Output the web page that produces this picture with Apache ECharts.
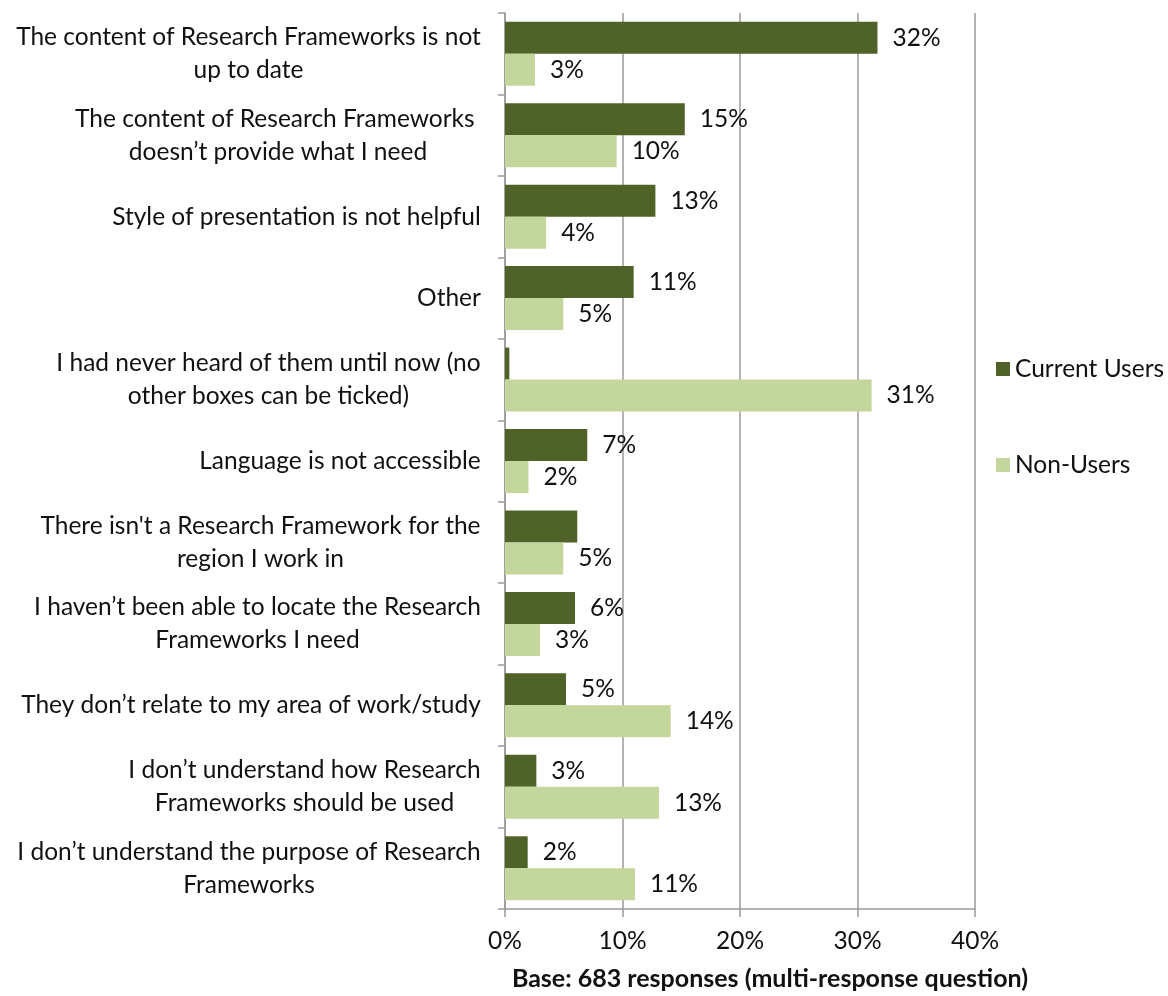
<!DOCTYPE html>
<html>
<head>
<meta charset="utf-8">
<script src="https://cdn.jsdelivr.net/npm/echarts@6/dist/echarts.min.js"></script>
<style>
  html, body { margin: 0; padding: 0; background: #fff; }
  #chart { width: 1168px; height: 996px; }
</style>
</head>
<body>
<div id="chart"></div>
<script>
// 类别（从上到下）
const categories = [
  'The content of Research Frameworks is not\nup to date',
  'The content of Research Frameworks \ndoesn\u2019t provide what I need',
  'Style of presentation is not helpful',
  'Other',
  'I had never heard of them until now (no\nother boxes can be ticked)',
  'Language is not accessible',
  "There isn't a Research Framework for the\nregion I work in",
  'I haven\u2019t been able to locate the Research\nFrameworks I need',
  'They don\u2019t relate to my area of work/study',
  'I don\u2019t understand how Research\nFrameworks should be used',
  'I don\u2019t understand the purpose of Research\nFrameworks'
]
const currentUsers = [31.7, 15.3, 12.8, 10.95, 0.37, 7.0, 6.15, 5.96, 5.19, 2.67, 1.93]
const nonUsers = [2.55, 9.5, 3.5, 4.96, 31.2, 2.0, 4.96, 2.98, 14.1, 13.1, 11.06]
// 哪些柱子显示数值标签
const currentLabelShown = [true, true, true, true, false, true, false, true, true, true, true]
const nonLabelShown = [true, true, true, true, true, true, true, true, true, true, true]
const seriesNames = ['Current Users', 'Non-Users']
const axisTitle = 'Base: 683 responses (multi-response question)'

const FONT = 'Lato'
const FS = 24.5
const colors = ['#4f6228', '#c3d69b']

// 多行标签居中：按最长一行的宽度做 rich 块
const ctx = document.createElement('canvas').getContext('2d')
ctx.font = FS + 'px ' + FONT
const rich = {}
categories.forEach((c, i) => {
  let w = 0
  c.split('\n').forEach(l => { w = Math.max(w, ctx.measureText(l).width) })
  rich['c' + i] = {
    width: Math.ceil(w),
    align: 'center',
    fontFamily: FONT,
    fontSize: FS,
    lineHeight: 33,
    color: '#111'
  }
})

function barData(values, shown) {
  return values.map((v, i) => ({
    value: v,
    label: { show: shown[i] }
  }))
}

const myChart = echarts.init(document.getElementById('chart'))
myChart.setOption({
  animation: false,
  color: colors,
  textStyle: { fontFamily: FONT },
  grid: { left: 505, right: 193, top: 13, bottom: 83 },
  legend: {
    orient: 'vertical',
    left: 991,
    top: 351,
    itemWidth: 14,
    itemHeight: 14,
    itemGap: 70,
    icon: 'rect',
    data: seriesNames,
    textStyle: { fontFamily: FONT, fontSize: FS, color: '#111', lineHeight: 26 }
  },
  xAxis: {
    type: 'value',
    min: 0,
    max: 40,
    interval: 10,
    axisLine: { show: true, lineStyle: { color: '#9a9a9a', width: 1.5 } },
    axisTick: { show: true, length: 8, lineStyle: { color: '#9a9a9a', width: 1.5 } },
    splitLine: { show: true, lineStyle: { color: '#9a9a9a', width: 1.5 } },
    axisLabel: {
      margin: 20,
      fontFamily: FONT,
      fontSize: FS,
      color: '#111',
      formatter: v => v + '%'
    },
    name: axisTitle,
    nameLocation: 'middle',
    nameGap: 57,
    nameTextStyle: {
      fontFamily: FONT,
      fontSize: 25,
      fontWeight: 'bold',
      color: '#111',
      padding: [0, 0, 0, 60]
    }
  },
  yAxis: {
    type: 'category',
    inverse: true,
    data: categories,
    axisLine: { show: true, lineStyle: { color: '#9a9a9a', width: 1.5 } },
    axisTick: { show: true, length: 7, lineStyle: { color: '#9a9a9a', width: 1.5 } },
    axisLabel: {
      margin: 24,
      formatter: (value, index) =>
        value.split('\n').map(l => '{c' + index + '|' + l + '}').join('\n'),
      rich: rich
    }
  },
  series: [
    {
      name: seriesNames[0],
      type: 'bar',
      barWidth: 32,
      barGap: '0%',
      data: barData(currentUsers, currentLabelShown),
      label: {
        position: 'right',
        distance: 15,
        fontFamily: FONT,
        fontSize: FS,
        color: '#111',
        formatter: p => Math.round(p.value) + '%'
      }
    },
    {
      name: seriesNames[1],
      type: 'bar',
      barWidth: 32,
      barGap: '0%',
      data: barData(nonUsers, nonLabelShown),
      label: {
        position: 'right',
        distance: 15,
        fontFamily: FONT,
        fontSize: FS,
        color: '#111',
        formatter: p => Math.round(p.value) + '%'
      }
    }
  ]
})
</script>
</body>
</html>
